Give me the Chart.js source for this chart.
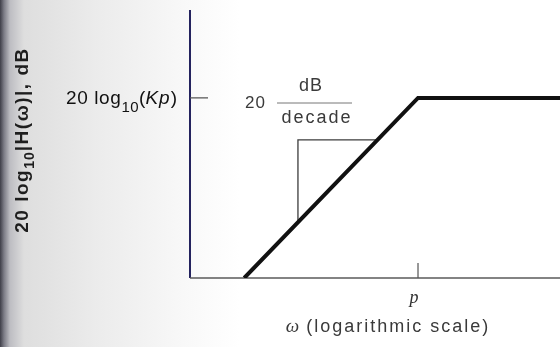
<!DOCTYPE html>
<html>
<head>
<meta charset="utf-8">
<script src="https://cdn.jsdelivr.net/npm/chart.js@4/dist/chart.umd.min.js"></script>
<style>
  html, body { margin: 0; padding: 0; }
  body {
    width: 560px; height: 347px; overflow: hidden;
    background: linear-gradient(to right, #3e3e48 0px, #7c7c86 4px, #bdbdc2 10px,
      #dedede 24px, #ececec 100px, #f9f9f9 190px, #ffffff 240px);
  }
  canvas { display: block; }
</style>
</head>
<body>
<canvas id="bode" width="560" height="347"></canvas>
<script>
// Asymptotic magnitude plot of a single pole/zero term, p normalised to 1,
// gain in dB relative to 20 log10(Kp).
const omega = [0.0299, 1, 17.6];
const gainDb = [-30.5, 0, 0];

// small right-angle marker showing the 20 dB/decade slope
const slopeOmega = [0.0885, 0.0885, 0.441];
const slopeDb = [-21.0, -7.1, -7.1];

const xRange = [0.01, 17.6];
const yRange = [-30.5, 14.9];
const pValue = 1;      // break frequency
const kpLevel = 0;     // 20 log10(Kp)

// draws a run of text pieces (font / vertical shift) one after the other
function drawRuns(ctx, runs, x, y, align) {
  let total = 0;
  runs.forEach((r) => {
    ctx.font = r.font;
    ctx.letterSpacing = r.ls || "0px";
    r.w = ctx.measureText(r.t).width;
    total += r.w;
  });
  let cx = align === "right" ? x - total : align === "center" ? x - total / 2 : x;
  runs.forEach((r) => {
    ctx.font = r.font;
    ctx.letterSpacing = r.ls || "0px";
    ctx.fillText(r.t, cx, y + (r.dy || 0));
    cx += r.w;
  });
}

const sketch = {
  id: "sketch",
  beforeDatasetsDraw(chart) {
    const { ctx, chartArea: a, scales } = chart;
    const yk = scales.y.getPixelForValue(kpLevel);
    const xp = scales.x.getPixelForValue(pValue);
    ctx.save();
    ctx.lineCap = "butt";
    // axes
    ctx.strokeStyle = "#24235e";
    ctx.lineWidth = 2;
    ctx.beginPath();
    ctx.moveTo(a.left, a.top);
    ctx.lineTo(a.left, a.bottom);
    ctx.stroke();
    ctx.strokeStyle = "#5a5a5a";
    ctx.lineWidth = 1.5;
    ctx.beginPath();
    ctx.moveTo(a.left, a.bottom);
    ctx.lineTo(a.right, a.bottom);
    ctx.stroke();
    // inward tick marks
    ctx.strokeStyle = "#555";
    ctx.lineWidth = 1.2;
    ctx.beginPath();
    ctx.moveTo(a.left, yk);
    ctx.lineTo(a.left + 18, yk);
    ctx.moveTo(xp, a.bottom);
    ctx.lineTo(xp, a.bottom - 15);
    ctx.stroke();
    ctx.restore();
  },
  afterDraw(chart) {
    const { ctx, chartArea: a, scales } = chart;
    const yk = scales.y.getPixelForValue(kpLevel);
    const xp = scales.x.getPixelForValue(pValue);
    const sans = '"Liberation Sans", Arial, sans-serif';
    ctx.save();
    ctx.textBaseline = "alphabetic";

    // y tick label: 20 log10(Kp)
    ctx.fillStyle = "#111";
    drawRuns(ctx, [
      { t: "20 log", font: "500 19px " + sans, ls: "0.6px" },
      { t: "10", font: "15px " + sans, dy: 8, ls: "0.5px" },
      { t: "(", font: "19px " + sans },
      { t: "Kp", font: "italic 19px " + sans, ls: "1px" },
      { t: ")", font: "19px " + sans },
    ], a.left - 13, yk + 6, "right");

    // slope annotation: 20 dB / decade
    ctx.fillStyle = "#3a3a3a";
    ctx.font = "17px " + sans;
    ctx.letterSpacing = "1px";
    ctx.textAlign = "left";
    ctx.fillText("20", 245, 108);
    ctx.textAlign = "center";
    ctx.font = "18px " + sans;
    ctx.fillText("dB", 311, 91);
    ctx.letterSpacing = "2px";
    ctx.fillText("decade", 317, 123);
    ctx.strokeStyle = "#777";
    ctx.lineWidth = 1;
    ctx.beginPath();
    ctx.moveTo(277, 103);
    ctx.lineTo(352, 103);
    ctx.stroke();

    // x tick label
    ctx.fillStyle = "#333";
    ctx.letterSpacing = "0px";
    ctx.font = 'italic 18px "Liberation Serif", serif';
    ctx.fillText("p", xp - 4, 303);

    // x axis title
    ctx.textAlign = "left";
    ctx.fillStyle = "#3a3a3a";
    drawRuns(ctx, [
      { t: "\u03c9", font: 'italic 19px "Liberation Serif", serif' },
      { t: " (logarithmic scale)", font: "18px " + sans, ls: "2px" },
    ], 388, 332, "center");

    // y axis title, rotated
    ctx.translate(28, 140);
    ctx.rotate(-Math.PI / 2);
    ctx.fillStyle = "#1e1e1e";
    drawRuns(ctx, [
      { t: "20 log", font: "bold 19px " + sans, ls: "1.5px" },
      { t: "10", font: "bold 14px " + sans, dy: 6, ls: "1px" },
      { t: "|H(\u03c9)|, dB", font: "bold 19px " + sans, ls: "1.5px" },
    ], 0, 0, "center");
    ctx.restore();
  },
};

const toPoints = (xs, ys) => xs.map((x, i) => ({ x: x, y: ys[i] }));

new Chart(document.getElementById("bode"), {
  type: "line",
  data: {
    datasets: [
      {
        data: toPoints(omega, gainDb),
        borderColor: "#111",
        borderWidth: 4,
        pointRadius: 0,
        tension: 0,
        fill: false,
      },
      {
        data: toPoints(slopeOmega, slopeDb),
        borderColor: "#3c3c3c",
        borderWidth: 1.3,
        pointRadius: 0,
        tension: 0,
        fill: false,
      },
    ],
  },
  options: {
    responsive: false,
    animation: false,
    devicePixelRatio: 1,
    layout: { padding: { left: 190, top: 10, right: 0, bottom: 69 } },
    plugins: { legend: { display: false }, tooltip: { enabled: false } },
    scales: {
      x: { type: "logarithmic", min: xRange[0], max: xRange[1], display: false },
      y: { type: "linear", min: yRange[0], max: yRange[1], display: false },
    },
  },
  plugins: [sketch],
});
</script>
</body>
</html>
